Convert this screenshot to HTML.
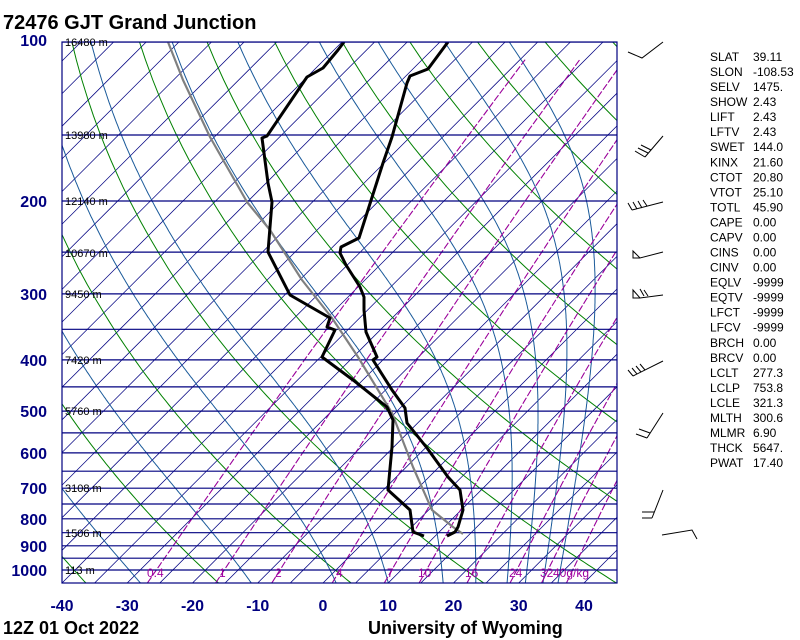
<!DOCTYPE html>
<html><head><meta charset="utf-8"><style>
html,body{margin:0;padding:0;background:#fff;width:800px;height:640px;overflow:hidden}
svg{display:block}
text{font-family:"Liberation Sans",Arial,sans-serif}
</style></head><body>
<svg id="s" width="800" height="640" viewBox="0 0 800 640" xmlns="http://www.w3.org/2000/svg">
<defs><clipPath id="c"><rect x="62" y="42" width="555" height="541"/></clipPath></defs>
<g id="bg" clip-path="url(#c)"></g>
<g fill="none" stroke-linejoin="round" clip-path="url(#c)">
<polyline stroke="#808080" stroke-width="2.2" points="168,42 183,80 210,137 247,202 270,230 302,280 332,318 358,357 392,413 413,467 432,510 453,527 463,534"/>
<polyline stroke="#000" stroke-width="3" points="344,42 338,50 323,68 307,77 267,136 262,138 268,183 272,202 268,252 290,295 330,318 327,327 335,330 322,357 353,380 387,407 393,420 392,447 388,490 410,510 413,532 424,536"/>
<polyline stroke="#000" stroke-width="3" points="448,42 428,69 410,76 407,83 392,137 383,163 359,238 341,247 340,253 346,265 360,287 364,297 364,310 366,332 377,357 373,360 392,390 405,408 407,423 427,448 448,477 460,490 463,510 458,527 455,532 447,536"/>
</g>
<rect x="62" y="42" width="555" height="541" fill="none" stroke="#000080" stroke-width="1.2"/>
<g id="lbl"></g>
<g fill="none" stroke="#000" stroke-width="1">
<polyline points="628,52 642,58 663,42"/>
<path d="M663,136 L645,157 M645,157 L635,151 M648,153 L638,148 M651,150 L641,145"/>
<path d="M663,202 L632,210 M632,210 L628,203 M637,209 L633,202 M642,208 L638,201 M647,206 L643,200"/>
<path d="M663,252 L640,258 L633,251 L633,258 L640,258"/>
<path d="M663,295 L640,298 L633,290 L633,298 L640,298 M644,296 L640,289 M648,296 L644,290"/>
<path d="M663,361 L633,376 M633,376 L628,370 M637,374 L632,368 M641,372 L636,366 M645,370 L640,364"/>
<path d="M663,413 L647,438 M647,438 L636,434 M650,433 L639,429"/>
<path d="M663,490 L652,518 M642,518 L652,518 M642,512 L654,512"/>
<path d="M662,535 L692,530 L697,539"/>
</g>
<g font-size="12" fill="#000" id="tx"></g>
<text x="3" y="29" font-size="20" font-weight="bold">72476 GJT Grand Junction</text>
<text x="3" y="634" font-size="18" font-weight="bold">12Z 01 Oct 2022</text>
<text x="368" y="634" font-size="18" font-weight="bold">University of Wyoming</text>
</svg>
<script>
var NS="http://www.w3.org/2000/svg";
function Y(p){return 570-229.3*Math.log(1000/p);}
function X(T,p){return 323+6.525*T+(583-Y(p));}
var bg=document.getElementById('bg'),lbl=document.getElementById('lbl');
function el(par,tag,at,txt){var e=document.createElementNS(NS,tag);for(var k in at)e.setAttribute(k,at[k]);if(txt!=null)e.textContent=txt;par.appendChild(e);return e;}
function pl(pts,st,w,dash){var a=el(bg,'polyline',{points:pts.map(function(q){return q[0].toFixed(1)+','+q[1].toFixed(1)}).join(' '),fill:'none',stroke:st,'stroke-width':w});if(dash)a.setAttribute('stroke-dasharray',dash);}
var PB=1058,PT=100;
for(var T=-170;T<=50;T+=5){pl([[X(T,PB),Y(PB)],[X(T,PT),Y(PT)]],'#000080',0.75);}
for(var th=173;th<=493;th+=20){var a=[];for(var p=PB;p>=PT;p-=10){a.push([X(th*Math.pow(p/1000,0.2857)-273.15,p),Y(p)]);}a.push([X(th*Math.pow(PT/1000,0.2857)-273.15,PT),Y(PT)]);pl(a,'#008000',1);}
function es(t){return 6.112*Math.exp(17.67*t/(t+243.5));}
var starts=[-45,-28,-11,2,10,18.4,23.4,28.2,31,33.7,36];
starts.forEach(function(t0){var t=t0+273.15,p=PB,a=[[X(t0,p),Y(p)]];while(p>PT){var dp=-2;var tc=t-273.15;var e=es(tc);var rs=0.622*e/(p-e);var Lv=2.5e6,Rd=287,cp=1004;var dTdp=(Rd*t+Lv*rs)/(p*(cp+Lv*Lv*rs*0.622/(Rd*t*t)));t+=dTdp*dp;p+=dp;a.push([X(t-273.15,p),Y(p)]);}pl(a,'#1a5a9a',1);});
[0.4,1,2,4,7,10,16,24,32,40].forEach(function(w){var a=[];for(var p=PB;p>=PT;p-=10){var e=w*p/(622+w);var L=Math.log(e/6.112);var td=243.5*L/(17.67-L);a.push([X(td,p),Y(p)]);}pl(a,'#9a009a',1.1,'7,2');});
[100,150,200,250,300,350,400,450,500,550,600,650,700,750,800,850,900,950,1000].forEach(function(p){var y=Y(p);pl([[62,y],[617,y]],'#000080',1.2);});
[[100,46],[200,207],[300,300],[400,366],[500,417],[600,459],[700,494],[800,525],[900,552],[1000,576]].forEach(function(q){el(lbl,'text',{x:47,y:q[1],'text-anchor':'end','font-size':16,'font-weight':'bold',fill:'#000080'},String(q[0]));});
[-40,-30,-20,-10,0,10,20,30,40].forEach(function(T){el(lbl,'text',{x:323+6.525*T,y:611,'text-anchor':'middle','font-size':16,'font-weight':'bold',fill:'#000080'},String(T));});
[['16480 m',42],['13980 m',135],['12140 m',201],['10670 m',253],['9450 m',294],['7420 m',360],['5760 m',411],['3108 m',488],['1506 m',533],['113 m',570]].forEach(function(q){el(lbl,'text',{x:65,y:q[1]+4,'font-size':11,fill:'#000'},q[0]);});
[['0.4',147],['1',219],['2',275],['4',336],['7',387],['10',418],['16',465],['24',509],['32',540],['40g/kg',553]].forEach(function(q){el(lbl,'text',{x:q[1],y:577,'font-size':12,fill:'#a000a0'},q[0]);});
var tx=document.getElementById('tx');
var rows=[['SLAT','39.11'],['SLON','-108.53'],['SELV','1475.'],['SHOW','2.43'],['LIFT','2.43'],['LFTV','2.43'],['SWET','144.0'],['KINX','21.60'],['CTOT','20.80'],['VTOT','25.10'],['TOTL','45.90'],['CAPE','0.00'],['CAPV','0.00'],['CINS','0.00'],['CINV','0.00'],['EQLV','-9999'],['EQTV','-9999'],['LFCT','-9999'],['LFCV','-9999'],['BRCH','0.00'],['BRCV','0.00'],['LCLT','277.3'],['LCLP','753.8'],['LCLE','321.3'],['MLTH','300.6'],['MLMR','6.90'],['THCK','5647.'],['PWAT','17.40']];
rows.forEach(function(r,i){var y=61+i*15.04;el(tx,'text',{x:710,y:y},r[0]);el(tx,'text',{x:753,y:y},r[1]);});
</script>
</body></html>
